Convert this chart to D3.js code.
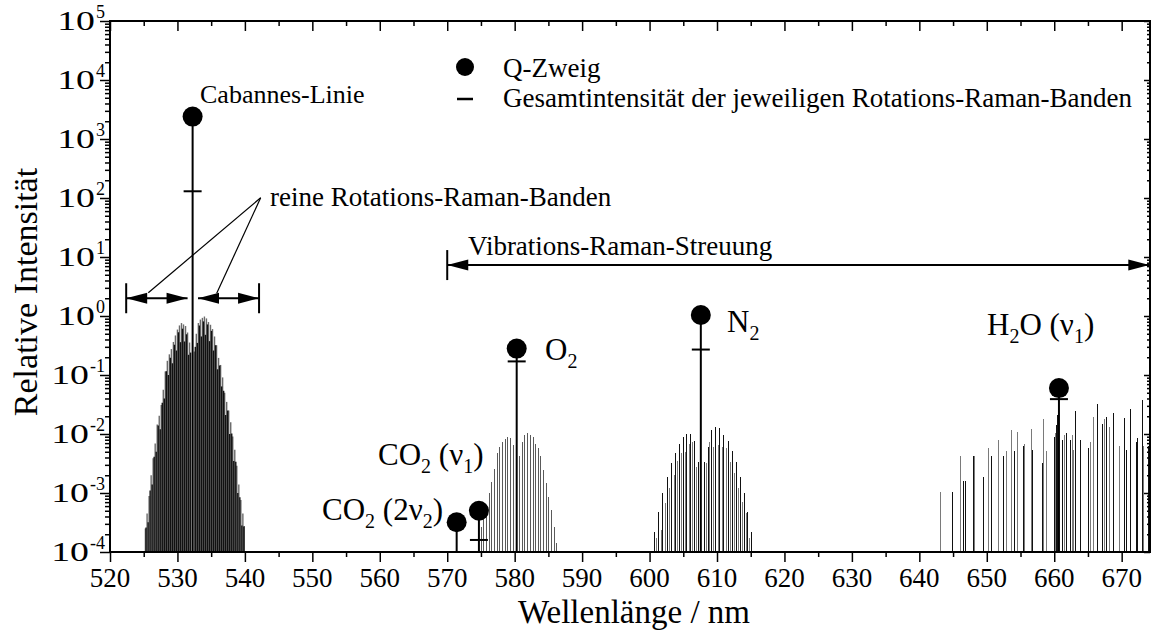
<!DOCTYPE html>
<html>
<head>
<meta charset="utf-8">
<script src="https://cdn.jsdelivr.net/npm/d3@7"></script>
<style>
  body { margin: 0; background: #fff; }
  svg { display: block; }
  text { font-family: "Liberation Serif", "Times New Roman", serif; fill: #000; }
</style>
</head>
<body>
<svg id="chart" width="1152" height="635"></svg>
<script>
// ---- axis ticks ----
const xMajorTicks = [520, 530, 540, 550, 560, 570, 580, 590, 600, 610, 620, 630, 640, 650, 660, 670];
const xMinorTicks = [525, 535, 545, 555, 565, 575, 585, 595, 605, 615, 625, 635, 645, 655, 665];
const yDecadeExps = [-4, -3, -2, -1, 0, 1, 2, 3, 4, 5];
const yDecades = yDecadeExps.map(e => Math.pow(10, e));
const yMinorFactors = [2, 3, 4, 5, 6, 7, 8, 9];

// ---- Q-branch lines (wavelength nm, Q-branch intensity, total rotational band intensity) ----
const qLabels = ["Cabannes", "CO2 (2v2)", "CO2 (v1)", "O2", "N2", "H2O (v1)"];
const qWavelength = [532.25, 571.4, 574.7, 580.3, 607.6, 660.7];
const qIntensity = [2400, 3.2e-4, 5.0e-4, 0.28, 1.04, 0.060];
const bandTotal = [130, null, 1.6e-4, 0.17, 0.27, 0.039];

// ---- pure rotational Raman band around the Cabannes line [nm, rel. intensity] ----
const rotLinesDark = [
  [525.35, 2.6e-4], [525.65, 3.2e-4], [525.95, 1.1e-3], [526.25, 1.4e-3], [526.55, 4.1e-3],
  [526.85, 5.0e-3], [527.15, 0.014], [527.45, 0.012], [527.75, 0.034], [528.05, 0.040],
  [528.35, 0.116], [528.65, 0.10], [528.95, 0.196], [529.25, 0.158], [529.55, 0.326],
  [529.85, 0.26], [530.15, 0.53], [530.45, 0.36], [530.75, 0.61], [531.05, 0.37],
  [531.35, 0.49], [531.65, 0.22], [531.95, 0.24],
  [532.65, 0.30], [532.95, 0.35], [533.25, 0.69], [533.55, 0.45], [533.85, 0.81],
  [534.15, 0.48], [534.45, 0.72], [534.75, 0.375], [535.05, 0.56], [535.35, 0.26],
  [535.65, 0.32], [535.95, 0.125], [536.25, 0.145], [536.55, 0.064], [536.85, 0.054],
  [537.15, 0.021], [537.45, 0.025], [537.75, 0.010], [538.05, 0.0102], [538.35, 0.0035],
  [538.65, 0.0034], [538.95, 0.0010], [539.25, 8.5e-4], [539.55, 2.8e-4], [539.85, 2.7e-4]
];
const rotLinesGray = [
  [525.25, 2.5e-4], [525.5, 4.5e-4], [525.8, 8.9e-4], [526.1, 2.0e-3], [526.4, 3.9e-3],
  [526.7, 6.9e-3], [527.0, 0.0145], [527.3, 0.0204], [527.6, 0.031], [527.9, 0.056],
  [528.2, 0.115], [528.5, 0.174], [528.8, 0.224], [529.1, 0.275], [529.4, 0.363],
  [529.7, 0.468], [530.0, 0.589], [530.3, 0.692], [530.6, 0.759], [530.9, 0.72],
  [531.2, 0.676], [531.5, 0.525], [531.8, 0.355],
  [532.5, 0.25], [532.8, 0.50], [533.1, 0.76], [533.4, 0.87], [533.7, 0.93],
  [534.0, 0.98], [534.3, 0.91], [534.6, 0.79], [534.9, 0.71], [535.2, 0.60],
  [535.5, 0.45], [535.8, 0.32], [536.1, 0.195], [536.4, 0.148], [536.7, 0.091],
  [537.0, 0.050], [537.3, 0.035], [537.6, 0.025], [537.9, 0.0158], [538.2, 0.0091],
  [538.5, 0.0054], [538.8, 0.0029], [539.1, 1.4e-3], [539.4, 7.6e-4], [539.7, 4.5e-4],
  [539.9, 2.75e-4]
];

// ---- O2 vibrational-rotational band ----
const o2Lines = [
  [575.10, 2.7e-4], [575.45, 4.0e-4], [575.84, 6.3e-4], [576.24, 1.0e-3], [576.63, 1.55e-3],
  [577.03, 2.6e-3], [577.42, 4.7e-3], [577.82, 6.1e-3], [578.22, 7.4e-3], [578.61, 8.1e-3],
  [579.01, 8.8e-3], [579.40, 8.5e-3], [579.80, 6.5e-3], [580.69, 4.2e-3], [581.14, 7.4e-3],
  [581.53, 9.6e-3], [581.93, 0.0103], [582.32, 9.6e-3], [582.72, 8.9e-3], [583.11, 6.9e-3],
  [583.51, 5.7e-3], [583.90, 4.2e-3], [584.30, 2.5e-3], [584.69, 1.5e-3], [585.09, 8.7e-4],
  [585.48, 5.1e-4], [585.88, 2.7e-4], [586.22, 1.4e-4]
];

// ---- N2 vibrational-rotational band ----
const n2LinesDark = [
  [600.80, 2.2e-4], [601.39, 4.7e-4], [601.99, 1.0e-3], [602.68, 1.9e-3], [603.32, 3.2e-3],
  [603.87, 4.8e-3], [604.41, 6.9e-3], [605.00, 8.9e-3], [605.50, 0.010], [606.09, 0.010],
  [606.73, 7.7e-3], [607.22, 3.4e-3], [608.11, 3.4e-3], [608.70, 6.1e-3], [609.20, 0.0117],
  [609.84, 0.0129], [610.44, 0.0125], [611.03, 9.6e-3], [611.67, 7.7e-3], [612.27, 5.2e-3],
  [612.91, 3.4e-3], [613.50, 1.9e-3], [614.04, 1.0e-3], [614.54, 4.8e-4], [615.13, 2.2e-4]
];
const n2LinesGray = [
  [601.05, 1.7e-4], [601.74, 2.35e-4], [602.33, 6.9e-4], [603.03, 1.2e-3], [603.67, 2.0e-3],
  [604.21, 3.5e-3], [604.76, 4.8e-3], [605.35, 5.0e-3], [605.89, 6.9e-3], [606.39, 7.4e-3],
  [606.98, 2.8e-3], [608.46, 3.2e-3], [608.96, 7.4e-3], [609.45, 6.1e-3], [610.19, 6.5e-3],
  [610.79, 6.1e-3], [611.43, 5.7e-3], [612.03, 3.4e-3], [612.57, 2.15e-3], [613.16, 1.2e-3],
  [613.80, 7.1e-4], [614.39, 4.5e-4], [614.89, 1.7e-4]
];

// ---- H2O (v1) band ----
const h2oLinesDark = [
  [644.88, 1.05e-3], [646.51, 1.6e-3], [646.91, 1.6e-3], [648.10, 4.3e-3], [649.48, 1.85e-3],
  [650.72, 4.3e-3], [652.45, 4.3e-3], [654.08, 5.2e-3], [655.41, 6.3e-3], [656.79, 5.4e-3],
  [658.28, 3.2e-3], [660.00, 8.9e-3], [660.36, 0.0142], [660.51, 0.021], [661.21, 7.9e-3],
  [661.85, 0.0105], [662.44, 7.9e-3], [663.19, 0.025], [663.83, 7.9e-3], [665.07, 5.9e-3],
  [666.41, 0.032], [667.20, 0.015], [667.80, 0.0196], [668.79, 0.0224], [670.37, 0.0185],
  [670.77, 5.4e-3], [671.26, 0.027], [672.16, 7.4e-3], [672.35, 8.5e-3], [673.15, 0.038],
  [673.99, 6.3e-3]
];
const h2oLinesGray = [
  [643.20, 1.05e-3], [646.12, 4.3e-3], [648.24, 4.3e-3], [650.22, 5.9e-3], [651.71, 7.9e-3],
  [652.85, 5.2e-3], [653.68, 0.0117], [654.52, 0.011], [655.66, 6.9e-3], [656.65, 0.012],
  [658.47, 0.0179], [658.87, 5.2e-3], [660.16, 0.0105], [661.50, 9.6e-3], [662.74, 9.6e-3],
  [662.84, 5.4e-3], [665.42, 7.4e-3], [665.82, 0.0196], [667.40, 0.0178], [668.14, 0.0133],
  [669.68, 6.3e-3], [673.25, 6.3e-3]
];

// ---- annotation arrows [from nm, to nm, level] ----
const rotArrowLeft = [522.4, 531.5, 2.0];
const rotArrowRight = [533.05, 542.1, 2.0];
const vibArrow = [570, 674.1, 7.3];
const pointerFrom = [542.34, 101];
const pointerTo = [[525.68, 2.48], [535.82, 2.43]];

// ---- layout ----
const svg = d3.select("#chart");
const plotLeft = 110, plotRight = 1150, plotTop = 21, plotBottom = 552;
const x = d3.scaleLinear().domain([520, 674.2]).range([plotLeft, plotRight]);
const y = d3.scaleLog().domain([1e-4, 1e5]).range([plotBottom, plotTop]);

svg.append("defs").append("clipPath").attr("id", "plotClip")
  .append("rect").attr("x", plotLeft).attr("y", plotTop)
  .attr("width", plotRight - plotLeft).attr("height", plotBottom - plotTop);

const plot = svg.append("g").attr("clip-path", "url(#plotClip)");

function spectralLines(data, color, width, crisp) {
  const s = plot.append("g").selectAll("line").data(data).join("line")
    .attr("x1", d => x(d[0])).attr("x2", d => x(d[0]))
    .attr("y1", y(1e-4)).attr("y2", d => y(d[1]))
    .attr("stroke", color).attr("stroke-width", width);
  if (crisp) s.attr("shape-rendering", "crispEdges");
}
const GRAY = "#7a7a7a", DARK = "#111";
spectralLines(rotLinesGray, "#6a6a6a", 1.4, false);
spectralLines(rotLinesDark, DARK, 1.4, false);
spectralLines(o2Lines, "#5a5a5a", 1, true);
spectralLines(n2LinesGray, GRAY, 1, true);
spectralLines(n2LinesDark, DARK, 1, true);
spectralLines(h2oLinesGray, GRAY, 1, true);
spectralLines(h2oLinesDark, DARK, 1, true);

// Q-branch stems, circles and total-band dashes
const qIdx = d3.range(qWavelength.length);
plot.append("g").selectAll("line").data(qIdx).join("line")
  .attr("x1", i => x(qWavelength[i])).attr("x2", i => x(qWavelength[i]))
  .attr("y1", y(1e-4)).attr("y2", i => y(qIntensity[i]))
  .attr("stroke", "#000").attr("stroke-width", 2);
plot.append("g").selectAll("line").data(qIdx.filter(i => bandTotal[i] !== null)).join("line")
  .attr("x1", i => x(qWavelength[i]) - 9).attr("x2", i => x(qWavelength[i]) + 9)
  .attr("y1", i => y(bandTotal[i])).attr("y2", i => y(bandTotal[i]))
  .attr("stroke", "#000").attr("stroke-width", 2);
plot.append("g").selectAll("circle").data(qIdx).join("circle")
  .attr("cx", i => x(qWavelength[i])).attr("cy", i => y(qIntensity[i]))
  .attr("r", 10).attr("fill", "#000");

// ---- axes ----
function styleAxis(g) {
  g.select(".domain").remove();
  g.selectAll(".tick line").attr("stroke", "#000").attr("stroke-width", 1.5);
}
svg.append("g").attr("transform", `translate(0,${plotBottom})`)
  .call(d3.axisBottom(x).tickValues(xMajorTicks).tickSize(10).tickFormat("")).call(styleAxis);
svg.append("g").attr("transform", `translate(0,${plotBottom})`)
  .call(d3.axisBottom(x).tickValues(xMinorTicks).tickSize(5).tickFormat("")).call(styleAxis);
svg.append("g").attr("transform", `translate(0,${plotTop})`)
  .call(d3.axisTop(x).tickValues(xMajorTicks).tickSize(-10).tickFormat("")).call(styleAxis);
svg.append("g").attr("transform", `translate(0,${plotTop})`)
  .call(d3.axisTop(x).tickValues(xMinorTicks).tickSize(-5).tickFormat("")).call(styleAxis);

const yMinor = [];
yDecadeExps.slice(0, -1).forEach(e => yMinorFactors.forEach(k => yMinor.push(k * Math.pow(10, e))));
svg.append("g").attr("transform", `translate(${plotLeft},0)`)
  .call(d3.axisLeft(y).tickValues(yDecades).tickSize(10).tickFormat("")).call(styleAxis);
svg.append("g").attr("transform", `translate(${plotLeft},0)`)
  .call(d3.axisLeft(y).tickValues(yMinor).tickSize(5).tickFormat("")).call(styleAxis);
svg.append("g").attr("transform", `translate(${plotRight},0)`)
  .call(d3.axisRight(y).tickValues(yDecades).tickSize(-6).tickFormat("")).call(styleAxis);
svg.append("g").attr("transform", `translate(${plotRight},0)`)
  .call(d3.axisRight(y).tickValues(yMinor).tickSize(-3).tickFormat("")).call(styleAxis);

svg.append("rect").attr("x", plotLeft).attr("y", plotTop)
  .attr("width", plotRight - plotLeft).attr("height", plotBottom - plotTop)
  .attr("fill", "none").attr("stroke", "#000").attr("stroke-width", 2);

// tick labels
svg.append("g").selectAll("text").data(xMajorTicks).join("text")
  .attr("x", d => x(d)).attr("y", 587).attr("text-anchor", "middle")
  .attr("font-size", 27).text(d => d);

// decade labels: exponent right-aligned near the axis, wide "10" placed in front of it
const ylg = svg.append("g");
yDecadeExps.forEach(e => {
  const ty = y(Math.pow(10, e));
  const ex = ylg.append("text").attr("x", 105).attr("y", ty - 3).attr("text-anchor", "end")
    .attr("font-size", 18).text(e < 0 ? "-" + (-e) : String(e));
  const w = ex.node().getComputedTextLength();
  ylg.append("text").attr("transform", `translate(${105 - w - 1},${ty + 9}) scale(1.35,1)`)
    .attr("text-anchor", "end").attr("font-size", 28).text("10");
});

// axis titles
svg.append("text").attr("x", 634).attr("y", 623).attr("text-anchor", "middle")
  .attr("font-size", 33).text("Wellenlänge / nm");
svg.append("text").attr("transform", "translate(37,292) rotate(-90)").attr("text-anchor", "middle")
  .attr("font-size", 34).text("Relative Intensität");

// ---- annotations ----
const ann = svg.append("g");
function arrowHead(px, py, dir) {
  const L = 21, h = 5.5;
  ann.append("path")
    .attr("d", `M${px},${py} L${px - dir * L},${py - h} L${px - dir * L},${py + h} Z`)
    .attr("fill", "#000");
}
function doubleArrow(a, bar1, bar2) {
  const x1 = x(a[0]), x2 = x(a[1]), yy = y(a[2]);
  ann.append("line").attr("x1", x1).attr("x2", x2).attr("y1", yy).attr("y2", yy)
    .attr("stroke", "#000").attr("stroke-width", 2);
  arrowHead(x1, yy, -1);
  arrowHead(x2, yy, 1);
  if (bar1) ann.append("line").attr("x1", x1).attr("x2", x1).attr("y1", yy - 15).attr("y2", yy + 15)
    .attr("stroke", "#000").attr("stroke-width", 2);
  if (bar2) ann.append("line").attr("x1", x2).attr("x2", x2).attr("y1", yy - 15).attr("y2", yy + 15)
    .attr("stroke", "#000").attr("stroke-width", 2);
}
doubleArrow(rotArrowLeft, true, false);
doubleArrow(rotArrowRight, false, true);
doubleArrow(vibArrow, true, false);

pointerTo.forEach(p => {
  ann.append("line")
    .attr("x1", x(pointerFrom[0])).attr("y1", y(pointerFrom[1]))
    .attr("x2", x(p[0])).attr("y2", y(p[1]))
    .attr("stroke", "#000").attr("stroke-width", 1.2);
});

ann.append("text").attr("x", 200).attr("y", 103).attr("font-size", 26).text("Cabannes-Linie");
ann.append("text").attr("x", 270).attr("y", 206).attr("font-size", 27).text("reine Rotations-Raman-Banden");
ann.append("text").attr("x", 468).attr("y", 255).attr("font-size", 27).text("Vibrations-Raman-Streuung");

// molecule labels with subscripts: parts are [text, isSubscript]
function chemLabel(px, py, parts, anchor) {
  const t = ann.append("text").attr("x", px).attr("y", py).attr("font-size", 31)
    .attr("text-anchor", anchor || "start");
  let shifted = false;
  parts.forEach(([s, sub]) => {
    const sp = t.append("tspan").text(s);
    if (sub && !shifted) { sp.attr("dy", 8).attr("font-size", 20); shifted = true; }
    else if (sub) { sp.attr("font-size", 20); }
    else if (shifted) { sp.attr("dy", -8); shifted = false; }
  });
}
chemLabel(545, 360, [["O", false], ["2", true]]);
chemLabel(727, 332, [["N", false], ["2", true]]);
chemLabel(987, 335, [["H", false], ["2", true], ["O (ν", false], ["1", true], [")", false]]);
chemLabel(378, 465, [["CO", false], ["2", true], [" (ν", false], ["1", true], [")", false]]);
chemLabel(443, 520, [["CO", false], ["2", true], [" (2ν", false], ["2", true], [")", false]], "end");

// ---- legend ----
const lg = svg.append("g");
lg.append("circle").attr("cx", 465).attr("cy", 67).attr("r", 9).attr("fill", "#000");
lg.append("text").attr("x", 503).attr("y", 77).attr("font-size", 27).text("Q-Zweig");
lg.append("line").attr("x1", 457).attr("x2", 473).attr("y1", 99).attr("y2", 99)
  .attr("stroke", "#000").attr("stroke-width", 2.5);
lg.append("text").attr("x", 503).attr("y", 107).attr("font-size", 27)
  .text("Gesamtintensität der jeweiligen Rotations-Raman-Banden");
</script>
</body>
</html>
